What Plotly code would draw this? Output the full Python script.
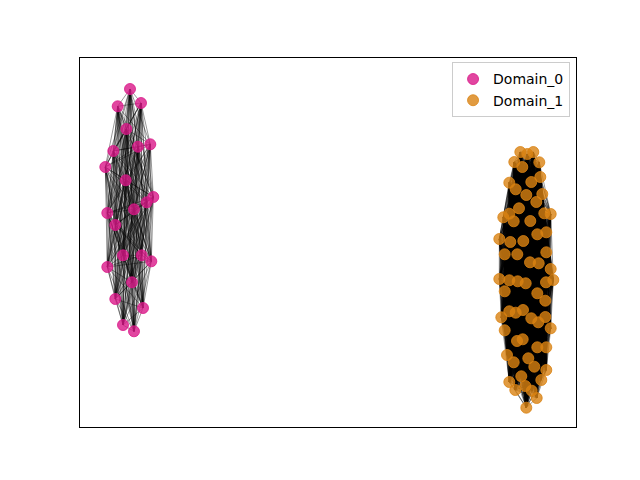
import itertools
import plotly.graph_objects as go

# Node positions (layout coordinates)
d0_x = [130, 117.7, 141, 126.3, 113.3, 138, 150.3, 105.3, 125.7, 153.3, 146.7, 107.3,
        134, 115.3, 123, 141.7, 151.3, 107.3, 132, 115.3, 143, 123, 134]
d0_y = [89, 106.3, 103, 129, 151, 146.7, 144.3, 167, 180.3, 197, 202.3, 213,
        209.3, 225, 255.3, 255.3, 261.3, 267, 282.3, 299, 308, 325, 331.3]

d1_x = [520.3, 527.3, 533.3, 514.3, 522.3, 539.3, 540.3, 509.3, 531.3, 515.7, 542.3, 526.3,
        536.3, 519, 509.3, 503.3, 513.7, 544.3, 550.7, 530.3, 537.3, 546.3, 499.3, 510.3,
        523.3, 504.7, 517.3, 546.3, 530, 538.7, 550.7,
        499.3, 509.3, 517.7, 525.7, 546, 553.3, 504.7, 537.3, 545.3, 501.3, 509.3, 515.7,
        523, 531.3, 538.3, 545.3, 550.7, 504.7, 517, 522.7, 537.3, 546.3, 507, 513.7,
        528.3, 534.3, 546.3, 521.3, 541.3, 509.3, 515.3, 525.3, 531.7, 536.7, 526.3]
d1_y = [152, 154, 152, 162, 167, 162.3, 177, 182.7, 182, 189.3, 194, 195,
        202, 208.3, 213.7, 217.3, 221.3, 213.3, 214, 221, 234.3, 232.3, 239, 242,
        241, 254.3, 254.3, 252.3, 262.3, 263.3, 269,
        279, 280.3, 281.3, 283.3, 282.3, 280, 291.3, 293.3, 300.7, 317.3, 311.3, 312.7,
        310, 318.3, 322.3, 317, 328.3, 330.3, 341, 339.3, 347.3, 347.3, 355, 362.3,
        358.3, 366.7, 370, 376.3, 380, 382, 390, 386, 390.7, 398, 407.7]

labels = ["Domain_0", "Domain_1"]
colors = ["rgba(217,24,136,0.8)", "rgba(217,130,17,0.8)"]


def edges(xs, ys):
    ex, ey = [], []
    for i, j in itertools.combinations(range(len(xs)), 2):
        ex += [xs[i], xs[j], None]
        ey += [ys[i], ys[j], None]
    return ex, ey


fig = go.Figure()
for xs, ys in [(d0_x, d0_y), (d1_x, d1_y)]:
    ex, ey = edges(xs, ys)
    fig.add_trace(go.Scatter(x=ex, y=ey, mode="lines",
                             line=dict(color="rgba(0,0,0,0.4)", width=1),
                             hoverinfo="skip", showlegend=False))

for xs, ys, lab, col in zip([d0_x, d1_x], [d0_y, d1_y], labels, colors):
    fig.add_trace(go.Scatter(x=xs, y=ys, mode="markers", name=lab,
                             marker=dict(size=11, color=col,
                                         line=dict(width=1, color=col))))

fig.update_layout(
    width=640, height=480,
    margin=dict(l=72, r=72, t=50, b=61),
    plot_bgcolor="white", paper_bgcolor="white",
    font=dict(family="DejaVu Sans", size=14, color="black"),
    legend=dict(x=0.988, y=0.988, xanchor="right", yanchor="top",
                bordercolor="#cccccc", borderwidth=1, bgcolor="rgba(255,255,255,0.8)",
                font=dict(size=14)),
)
fig.update_xaxes(range=[80, 576], showgrid=False, zeroline=False, showticklabels=False,
                 ticks="", showline=True, linecolor="black", linewidth=1, mirror=True)
fig.update_yaxes(range=[427, 58], showgrid=False, zeroline=False, showticklabels=False,
                 ticks="", showline=True, linecolor="black", linewidth=1, mirror=True)

fig.write_html("out.html")
